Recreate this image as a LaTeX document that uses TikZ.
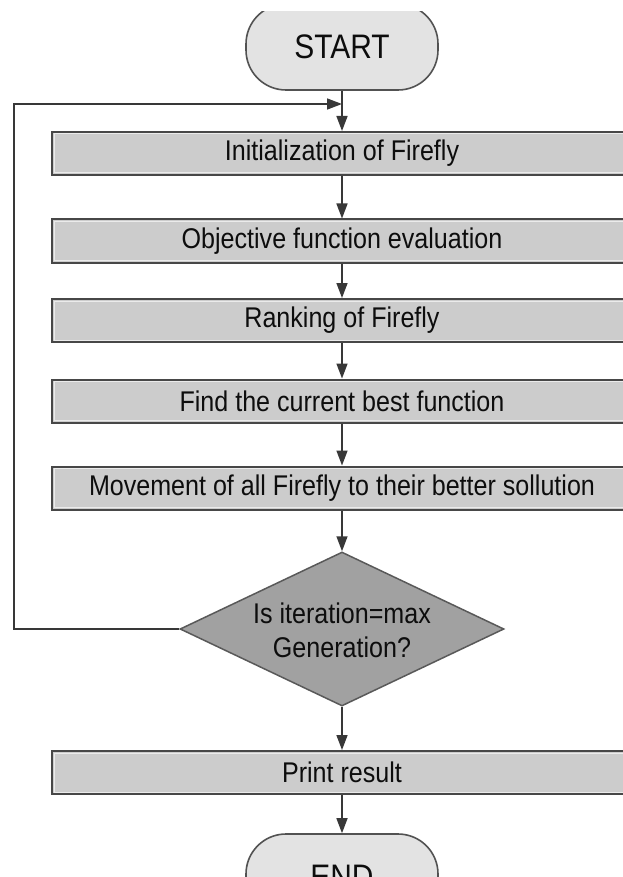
\documentclass[tikz,border=0pt]{standalone}
\usepackage{fontspec}
\setmainfont{Liberation Sans}[FakeStretch=0.88]
\usetikzlibrary{shapes.geometric,arrows.meta}

\begin{document}
\begin{tikzpicture}[x=1pt,y=-1pt,
  link/.style={draw=black!78, line width=1.5pt},
  arr/.style={link, -{Triangle[length=15pt,width=11pt]}},
  procbox/.style={rectangle, draw=black!72, line width=2pt, fill=black!20,
    minimum width=580pt, minimum height=43pt, inner sep=0pt,
    font=\fontsize{28.5}{30}\selectfont, text=black!95},
  bevel/.style={draw=black!8, line width=1pt},
  terminal/.style={rectangle, rounded corners=40pt, draw=black!68, line width=1.6pt,
    fill=black!11, minimum width=192pt, minimum height=86pt, inner sep=0pt,
    font=\fontsize{34}{36}\selectfont, text=black!95},
  decision/.style={diamond, draw=black!65, line width=1.5pt, fill=black!37,
    minimum width=324pt, minimum height=154pt, inner sep=0pt},
  dectext/.style={align=center, inner sep=0pt, font=\fontsize{28.5}{34}\selectfont, text=black!95}
]
\useasboundingbox (0,0) rectangle (622,877);
\fill[white] (0,0) rectangle (622,877);
\clip (-5,12) rectangle (640,877);

% terminals, process steps and the decision
\node[terminal] (start) at (342,47) {START};
\node[procbox] (b1) at (342,153.5) {Initialization of Firefly};
\node[procbox] (b2) at (342,241) {Objective function evaluation};
\node[procbox] (b3) at (342,320.5) {Ranking of Firefly};
\node[procbox] (b4) at (342,401) {Find the current best function};
\node[procbox] (b5) at (342,488) {Movement of all Firefly to their better sollution};
\node[decision] (dec) at (342,629) {};
\node[dectext] (dect) at (342,630) {Is iteration=max\\Generation?};
\node[procbox] (pr) at (342,772.5) {Print result};
\node[terminal] (fin) at (342,877) {END};

% light inner edge of the process boxes
\foreach \n in {b1,b2,b3,b4,b5,pr}
  \draw[bevel] ([shift={(3pt,-3pt)}]\n.north west) rectangle ([shift={(-3pt,3pt)}]\n.south east);

\coordinate (join) at (342,104);
\coordinate (corner) at (14,629);

% main flow
\draw[arr] (start.south) -- (b1.north);
\draw[arr] (b1.south) -- (b2.north);
\draw[arr] (b2.south) -- (b3.north);
\draw[arr] (b3.south) -- (b4.north);
\draw[arr] (b4.south) -- (b5.north);
\draw[arr] (b5.south) -- (dec.north);
\draw[arr] (dec.south) -- (pr.north);
\draw[arr] (pr.south) -- (fin.north);

% loop back when the generation limit is not reached
\draw[arr] (dec.west) -- (corner) |- (join);
\end{tikzpicture}
\end{document}
